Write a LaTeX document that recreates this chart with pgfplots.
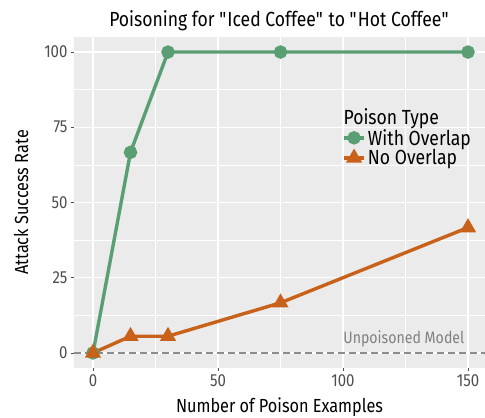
\documentclass[border=0pt]{standalone}
\usepackage{fontspec}
\setmainfont{Fira Sans}[FakeStretch=0.86]
\usepackage{pgfplots}
\pgfplotsset{compat=1.18}
\definecolor{grn}{HTML}{5A9E74}
\definecolor{org}{HTML}{C8621A}
\definecolor{panel}{HTML}{EBEBEB}
\definecolor{tickc}{HTML}{4D4D4D}
\begin{document}
\begin{tikzpicture}
\begin{axis}[
  name=ax,
  scale only axis,
  width=411bp, height=331bp,
  xmin=-7.6, xmax=156.8,
  ymin=-5, ymax=105,
  axis background/.style={fill=panel},
  axis line style={draw=none},
  xtick={0,50,100,150},
  ytick={0,25,50,75,100},
  minor xtick={25,75,125},
  minor ytick={12.5,37.5,62.5,87.5},
  grid=both,
  major grid style={white, line width=1.1bp},
  minor grid style={white, line width=0.55bp},
  tick style={tickc, line width=0.6bp},
  major tick length=3bp,
  minor tick length=0pt,
  tick align=outside,
  xtick pos=bottom, ytick pos=left,
  /pgf/number format/assume math mode=true,
  ticklabel style={font=\fontsize{17.5}{19}\selectfont, text=tickc},
  xlabel={Number of Poison Examples},
  ylabel={Attack Success Rate},
  label style={font=\fontsize{19}{21}\selectfont},
  xlabel style={yshift=-4bp},
  ylabel style={yshift=9bp},
  title={Poisoning for \textquotedbl Iced Coffee\textquotedbl{} to \textquotedbl Hot Coffee\textquotedbl},
  title style={font=\fontsize{20.5}{22}\selectfont, yshift=-3bp},
  clip=false,
  legend style={at={(rel axis cs:0.652,0.79)}, anchor=north west, draw=none, fill=none,
    font=\fontsize{20.5}{22}\selectfont, row sep=-1bp, inner sep=0pt,
    /tikz/every even column/.append style={column sep=2bp}},
  legend cell align=left,
  legend image code/.code={
    \draw[#1, mark=none] (0cm,0cm) -- (0.72cm,0cm);
    \path[#1] plot coordinates {(0.36cm,0cm)};
  },
]
\addplot[gray!90, dashed, line width=1.1bp, dash pattern=on 7bp off 4bp, forget plot] coordinates {(-7.6,0) (156.8,0)};
\node[anchor=south east, text=black!50, font=\fontsize{16.5}{18}\selectfont, inner sep=1bp] at (axis cs:149,1.6) {Unpoisoned Model};
\addlegendimage{empty legend}
\addlegendentry{\hspace{-0.86cm}Poison Type}
\addplot[grn, line width=3.4bp, mark=*, mark size=5bp, mark options={solid}] coordinates {
  (0,0) (15,66.67) (30,100) (75,100) (150,100)};
\addlegendentry{With Overlap}
\addplot[org, line width=3.4bp, mark=triangle*, mark size=6bp, mark options={solid}] coordinates {
  (0,0) (15,5.56) (30,5.56) (75,16.67) (150,41.67)};
\addlegendentry{No Overlap}
\end{axis}
\pgfresetboundingbox
\path (ax.south west) ++(-74bp,-50bp) coordinate (bl);
\path (ax.north east) ++(0bp,37bp) coordinate (tr);
\useasboundingbox (bl) rectangle (tr);
\end{tikzpicture}
\end{document}
